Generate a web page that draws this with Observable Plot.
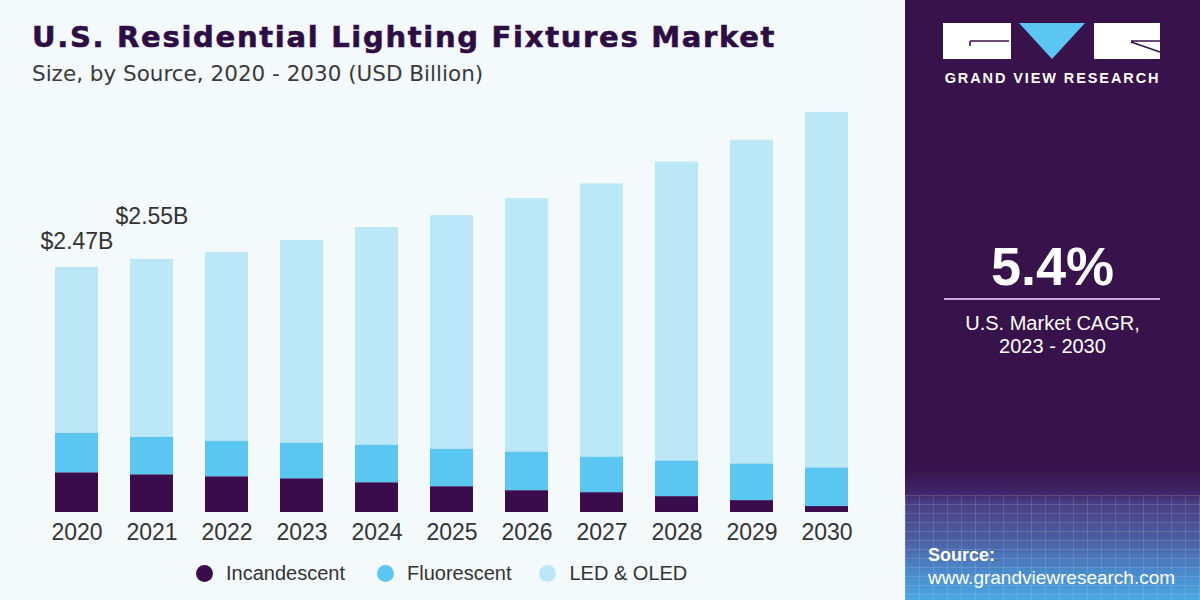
<!DOCTYPE html>
<html><head><meta charset="utf-8">
<script src="https://cdn.jsdelivr.net/npm/d3@7"></script>
<script src="https://cdn.jsdelivr.net/npm/@observablehq/plot@0.6"></script>
<style>
body{margin:0;width:1200px;height:600px;overflow:hidden;background:#f4f9fc;font-family:"Liberation Sans",Arial,sans-serif;}
#wrap{position:relative;width:1200px;height:600px;}
#title{position:absolute;left:32px;top:20px;font-family:"DejaVu Sans",sans-serif;font-weight:bold;font-size:29px;letter-spacing:1.7px;color:#2e0d45;-webkit-text-stroke:0.6px #2e0d45;white-space:nowrap;}
#subtitle{position:absolute;left:32px;top:61px;font-family:"DejaVu Sans",sans-serif;font-size:21.5px;color:#3a3a3a;white-space:nowrap;}
#chart{position:absolute;left:0;top:90px;}
#legend{position:absolute;left:196px;top:562px;display:flex;font-size:20px;color:#333;}
#legend .item{display:flex;align-items:center;}
#legend .sw{width:17px;height:17px;border-radius:50%;margin-right:13px;}
#panel{position:absolute;left:905px;top:0;width:295px;height:600px;
 background:linear-gradient(to bottom,#37124b 0%,#37124b 78%,#3f2668 82%,#4b3f85 84%,#4d5fa3 90%,#4a8fd0 96%,#4aa8e2 100%);}
#grid{position:absolute;left:0;top:495px;width:295px;height:105px;
 background-image:repeating-linear-gradient(to right,rgba(255,255,255,0.12) 0 1px,transparent 1px 14px),repeating-linear-gradient(to bottom,rgba(255,255,255,0.12) 0 1px,transparent 1px 9px);}
.pt{position:absolute;color:#fff;white-space:nowrap;text-align:center;width:295px;left:0;}
</style></head><body>
<div id="wrap">
<div id="title">U.S. Residential Lighting Fixtures Market</div>
<div id="subtitle">Size, by Source, 2020 - 2030 (USD Billion)</div>
<div id="chart"></div>
<div id="legend"></div>
<div id="panel">
 <div id="grid"></div>
 <svg style="position:absolute;left:0;top:0" width="295" height="100">
  <rect x="38" y="23" width="68" height="36" fill="#fff"/>
  <path d="M65 41 H104 M65 41 V46" stroke="#37124b" stroke-width="1.5" fill="none"/>
  <polygon points="114,23 180,23 147,59" fill="#5cc6f2"/>
  <rect x="189" y="23" width="66" height="36" fill="#fff"/>
  <path d="M226 41 H255 M226 42 L255 52" stroke="#37124b" stroke-width="1.5" fill="none"/>
 </svg>
 <div class="pt" style="top:70px;font-weight:bold;font-size:14.5px;letter-spacing:1.9px;">GRAND VIEW RESEARCH</div>
 <div class="pt" style="top:235px;font-weight:bold;font-size:54px;">5.4%</div>
 <div style="position:absolute;left:39px;top:298px;width:216px;height:2px;background:#c6a6de;"></div>
 <div class="pt" style="top:312px;font-size:20px;line-height:23px;">U.S. Market CAGR,<br>2023 - 2030</div>
 <div style="position:absolute;left:23px;top:545px;color:#fff;font-weight:bold;font-size:18px;">Source:</div>
 <div style="position:absolute;left:23px;top:567px;color:#fff;font-size:19px;">www.grandviewresearch.com</div>
</div>
</div>
<script>
const years = ["2020","2021","2022","2023","2024","2025","2026","2027","2028","2029","2030"];
const incandescent = [0.40,0.38,0.36,0.34,0.30,0.26,0.22,0.20,0.16,0.12,0.06];
const fluorescent  = [0.40,0.38,0.36,0.36,0.38,0.38,0.39,0.36,0.36,0.37,0.39];
const ledOled      = [1.67,1.79,1.90,2.04,2.19,2.35,2.55,2.75,3.01,3.26,3.58];
const series = ["Incandescent","Fluorescent","LED & OLED"];
const colors = ["#3a0c4b","#5cc6f2","#bce7f7"];
const labelYears = ["2020","2021"];
const labelTexts = ["$2.47B","$2.55B"];

const valuesBySeries = [incandescent, fluorescent, ledOled];
const rows = [];
years.forEach((yr,i)=>series.forEach((s,j)=>rows.push({year:yr, source:s, value:valuesBySeries[j][i]})));
const totals = years.map((yr,i)=>({year:yr, total: incandescent[i]+fluorescent[i]+ledOled[i]}));
const lab = labelYears.map((yr,k)=>({year:yr, total: totals.find(t=>t.year===yr).total, text: labelTexts[k]}));

const chart = Plot.plot({
  width: 905, height: 460,
  marginTop: 5, marginBottom: 38, marginLeft: 23, marginRight: 24,
  style: {background:"transparent", fontFamily:'"Liberation Sans", Arial, sans-serif', fontSize:"23px", color:"#333"},
  x: {domain: years, paddingInner: 0.423, paddingOuter: 0.423, label: null, tickSize: 0, tickPadding: 11},
  y: {domain: [0, 4.2], axis: null},
  color: {domain: series, range: colors},
  marks: [
    Plot.barY(rows, {x: "year", y: "value", fill: "source"}),
    Plot.text(lab.slice(0,1), {x: "year", y: "total", text: "text", dy: -26, fontSize: 23, fill: "#333"}),
    Plot.text(lab.slice(1,2), {x: "year", y: "total", text: "text", dy: -43, fontSize: 23, fill: "#333"})
  ]
});
document.getElementById("chart").appendChild(chart);

const leg = document.getElementById("legend");
const gaps = [32, 28, 0];
series.forEach((s,j)=>{
  const it = document.createElement("div"); it.className="item"; it.style.marginRight = gaps[j] + "px";
  const sw = document.createElement("div"); sw.className="sw"; sw.style.background = colors[j];
  const tx = document.createElement("span"); tx.textContent = s;
  it.appendChild(sw); it.appendChild(tx); leg.appendChild(it);
});
</script>
</body></html>
